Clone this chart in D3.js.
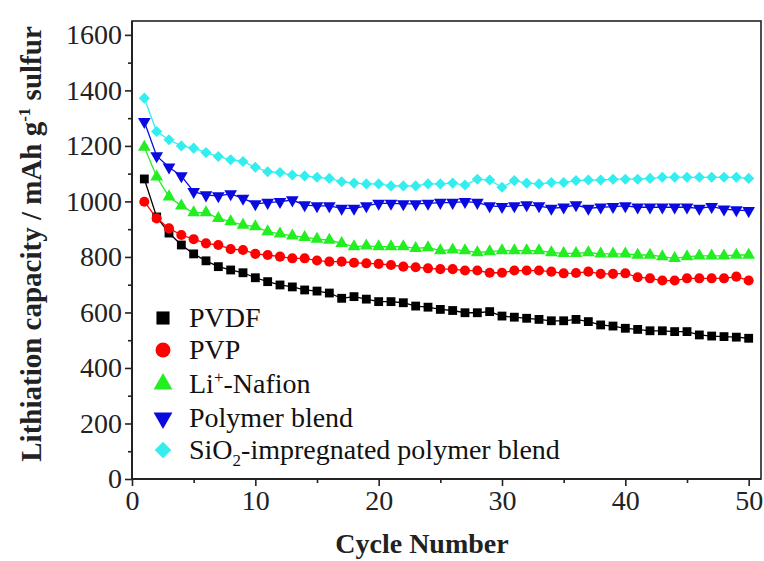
<!DOCTYPE html>
<html><head><meta charset="utf-8">
<script src="https://cdn.jsdelivr.net/npm/d3@7"></script>
<style>body{margin:0;background:#fff}svg{display:block}</style>
</head><body>
<script>
const cycles = d3.range(1, 51);
const pvdf = [1081,944,886,843,811,786,765,753,743,725,711,699,692,681,677,670,651,657,648,639,639,635,623,619,611,607,599,599,603,587,583,579,575,570,570,575,567,555,551,543,539,534,534,531,531,519,515,513,511,507];
const pvp = [999,939,903,879,864,849,843,828,825,811,807,801,795,795,787,783,783,779,777,775,771,765,763,759,756,756,751,751,743,743,751,751,751,747,741,742,747,739,739,741,727,723,715,715,723,723,723,723,729,715];
const nafion = [1196,1089,1017,984,960,960,939,927,915,909,891,883,876,871,864,861,849,837,840,837,837,837,831,834,823,826,823,816,819,823,823,823,823,816,813,813,816,811,811,811,807,807,801,795,801,804,804,804,807,807];
const blend = [1287,1164,1123,1092,1035,1023,1020,1027,1011,991,996,999,1005,987,984,984,975,975,984,993,993,991,991,993,996,996,999,996,984,981,984,987,984,975,979,987,975,979,981,984,979,979,979,979,979,975,981,972,969,967];
const sio2 = [1372,1252,1222,1200,1192,1176,1162,1150,1144,1123,1107,1104,1095,1092,1087,1083,1071,1066,1063,1063,1056,1056,1056,1063,1063,1066,1059,1080,1077,1051,1075,1066,1063,1068,1068,1075,1077,1077,1080,1080,1080,1083,1087,1087,1087,1087,1087,1087,1087,1083];
const seriesNames = ["PVDF", "PVP", "Li+-Nafion", "Polymer blend", "SiO2-impregnated polymer blend"];
const seriesColors = ["#000000", "#ff0000", "#22ee22", "#0a0ae0", "#33eeee"];
const xTicks = [0, 10, 20, 30, 40, 50];
const yTicks = [0, 200, 400, 600, 800, 1000, 1200, 1400, 1600];

const W = 764, H = 561;
const svg = d3.select("body").append("svg").attr("width", W).attr("height", H);
const x = d3.scaleLinear().domain([0, 51]).range([132, 761]);
const y = d3.scaleLinear().domain([0, 1650]).range([479, 21]);
const font = "'Liberation Serif','Times New Roman',serif";

const data = [pvdf, pvp, nafion, blend, sio2];
const symbols = [
  {type: d3.symbolSquare, size: 78, rot: 0},
  {type: d3.symbolCircle, size: 80, rot: 0},
  {type: d3.symbolTriangle, size: 70, rot: 0},
  {type: d3.symbolTriangle, size: 70, rot: 180},
  {type: d3.symbolSquare, size: 62, rot: 45}
];

// frame
svg.append("rect").attr("x", x(0)).attr("y", y(1650)).attr("width", x(51) - x(0)).attr("height", y(0) - y(1650))
  .attr("fill", "none").attr("stroke", "#222").attr("stroke-width", 1.6);

// series
const line = d3.line().x((d, i) => x(cycles[i])).y(d => y(d));
data.forEach((vals, s) => {
  const g = svg.append("g");
  g.append("path").attr("d", line(vals)).attr("fill", "none").attr("stroke", seriesColors[s]).attr("stroke-width", 1.3);
  const sym = d3.symbol().type(symbols[s].type).size(symbols[s].size);
  g.selectAll("path.m").data(vals).join("path").attr("class", "m")
    .attr("d", sym)
    .attr("transform", (d, i) => `translate(${x(cycles[i])},${y(d)}) rotate(${symbols[s].rot})`)
    .attr("fill", seriesColors[s]);
});

// axes
const xAxis = d3.axisBottom(x).tickValues(xTicks).tickSize(7).tickPadding(4).tickFormat(d3.format("d"));
const gx = svg.append("g").attr("transform", `translate(0,${y(0)})`).call(xAxis);
const xMinor = svg.append("g").attr("transform", `translate(0,${y(0)})`)
  .call(d3.axisBottom(x).tickValues([5, 15, 25, 35, 45]).tickSize(4).tickFormat(""));
const yAxis = d3.axisLeft(y).tickValues(yTicks).tickSize(7).tickPadding(3).tickFormat(d3.format("d"));
const gy = svg.append("g").attr("transform", `translate(${x(0)},0)`).call(yAxis);
const yMinor = svg.append("g").attr("transform", `translate(${x(0)},0)`)
  .call(d3.axisLeft(y).tickValues([100, 300, 500, 700, 900, 1100, 1300, 1500]).tickSize(4).tickFormat(""));
[gx, gy, xMinor, yMinor].forEach(g => {
  g.select(".domain").remove();
  g.selectAll("line").attr("stroke", "#222").attr("stroke-width", 1.6);
  g.selectAll("text").attr("font-family", font).attr("font-size", 28).attr("fill", "#222");
});
svg.append("line").attr("x1", x(0)).attr("x2", x(51)).attr("y1", y(0)).attr("y2", y(0)).attr("stroke", "#222").attr("stroke-width", 2);
svg.append("line").attr("x1", x(0)).attr("x2", x(0)).attr("y1", y(0)).attr("y2", y(1650)).attr("stroke", "#222").attr("stroke-width", 2);

// axis titles
svg.append("text").attr("x", 422).attr("y", 553).attr("text-anchor", "middle")
  .attr("font-family", font).attr("font-weight", "bold").attr("font-size", 28).attr("fill", "#222").text("Cycle Number");
const yt = svg.append("text").attr("transform", "translate(41,244) rotate(-90)").attr("text-anchor", "middle")
  .attr("font-family", font).attr("font-weight", "bold").attr("font-size", 29).attr("fill", "#222");
yt.append("tspan").text("Lithiation capacity / mAh g");
yt.append("tspan").attr("dy", -11).attr("font-size", 17).text("-1");
yt.append("tspan").attr("dy", 11).text(" sulfur");

// legend
const legY = [318, 350, 384, 418, 450];
const leg = svg.append("g");
seriesNames.forEach((name, s) => {
  const sym = d3.symbol().type(symbols[s].type).size(symbols[s].size * 2.2);
  leg.append("path").attr("d", sym)
    .attr("transform", `translate(163,${legY[s]}) rotate(${symbols[s].rot})`)
    .attr("fill", seriesColors[s]);
  const t = leg.append("text").attr("x", 189).attr("y", legY[s] + 9)
    .attr("font-family", font).attr("font-size", 28).attr("fill", "#111");
  if (s === 2) {
    t.append("tspan").text("Li");
    t.append("tspan").attr("dy", -10).attr("font-size", 17).text("+");
    t.append("tspan").attr("dy", 10).text("-Nafion");
  } else if (s === 4) {
    t.append("tspan").text("SiO");
    t.append("tspan").attr("dy", 7).attr("font-size", 17).text("2");
    t.append("tspan").attr("dy", -7).text("-impregnated polymer blend");
  } else {
    t.text(name);
  }
});
</script>
</body></html>
